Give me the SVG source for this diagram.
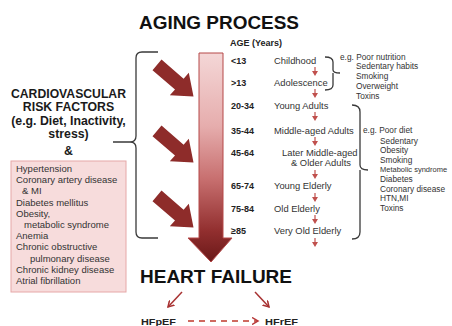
<svg xmlns="http://www.w3.org/2000/svg" width="452" height="326" viewBox="0 0 452 326">
<style>
text{font-family:"Liberation Sans",Arial,sans-serif;fill:#222}
.title{font-size:18px;font-weight:bold;fill:#111}
.rf{font-size:12.3px;font-weight:bold;text-anchor:middle;fill:#1a1a1a}
.box{font-size:9.5px;fill:#333}
.age{font-size:9px;font-weight:bold;fill:#222}
.lbl{font-size:9.4px;fill:#333}
.eg{font-size:8.3px;fill:#333}
.hf{font-size:9.5px;font-weight:bold;fill:#222}
.brace{fill:none;stroke:#3a3a3a;stroke-width:1.3}
</style>
<defs>
<linearGradient id="big" gradientUnits="userSpaceOnUse" x1="0" y1="53" x2="0" y2="262">
<stop offset="0" stop-color="#f4d7d7"/>
<stop offset="0.35" stop-color="#e6adad"/>
<stop offset="0.6" stop-color="#c87070"/>
<stop offset="0.85" stop-color="#922f2f"/>
<stop offset="1" stop-color="#6a1818"/>
</linearGradient>
<path id="diag" d="M161.5,59.5 L183.6,78.8 L188.8,72.8 L193.5,96.5 L169.8,95.3 L175,89.5 L152.5,70.3 Z" fill="#8e2c2a"/>
<g id="da"><line x1="0" y1="0" x2="0" y2="5" stroke="#c0504d" stroke-width="1.2"/><path d="M-3,4 L3,4 L0,9 Z" fill="#c0504d"/></g>
<marker id="ah" markerWidth="8" markerHeight="8" refX="6" refY="4" orient="auto" markerUnits="userSpaceOnUse"><path d="M0,0.5 L6,4 L0,7.5" fill="none" stroke="#b83a3a" stroke-width="1.5"/></marker>
<marker id="ahs" markerWidth="8" markerHeight="8" refX="6" refY="4" orient="auto" markerUnits="userSpaceOnUse"><path d="M0,0.5 L6,4 L0,7.5" fill="none" stroke="#a83232" stroke-width="1.5"/></marker>
</defs>

<g id="title"><text class="title" x="139" y="29" textLength="160" lengthAdjust="spacingAndGlyphs">AGING PROCESS</text></g>

<g id="big-arrow">
<path d="M199,53 H223 V238 H232 L211,262 L188,238 H199 Z" fill="url(#big)" stroke="#b54848" stroke-width="1"/>
</g>

<g id="risk-arrows">
<use href="#diag"/>
<use href="#diag" transform="translate(0,66)"/>
<use href="#diag" transform="translate(0,131)"/>
</g>

<g id="left-bracket">
<path class="brace" d="M158,52 H142 Q136,52 136,58 V136 Q136,142 130,142 H113 M130,142 Q136,142 136,148 V232 Q136,238 142,238 H158"/>
</g>

<g id="risk-factors">
<text class="rf" x="68.5" y="98" textLength="115" lengthAdjust="spacingAndGlyphs">CARDIOVASCULAR</text>
<text class="rf" x="68.5" y="111">RISK FACTORS</text>
<text class="rf" x="68.5" y="124.5">(e.g. Diet, Inactivity,</text>
<text class="rf" x="68.5" y="138">stress)</text>
<text class="rf" x="68.5" y="155">&amp;</text>
</g>

<g id="risk-box">
<rect x="11" y="161" width="115" height="131" fill="#f7dcdc" stroke="#e6a8a8" stroke-width="1"/>
<text class="box" x="16" y="172">Hypertension</text>
<text class="box" x="16" y="183.2">Coronary artery disease</text>
<text class="box" x="22" y="194.4">&amp; MI</text>
<text class="box" x="16" y="205.6">Diabetes mellitus</text>
<text class="box" x="16" y="216.8">Obesity,</text>
<text class="box" x="24" y="228">metabolic syndrome</text>
<text class="box" x="16" y="239.2">Anemia</text>
<text class="box" x="16" y="250.4">Chronic obstructive</text>
<text class="box" x="30" y="261.6">pulmonary disease</text>
<text class="box" x="16" y="272.8">Chronic kidney disease</text>
<text class="box" x="16" y="284">Atrial fibrillation</text>
</g>

<g id="ages">
<text class="age" x="230" y="46">AGE (Years)</text>
<text class="age" x="231" y="64">&lt;13</text><text class="lbl" x="274" y="64">Childhood</text>
<text class="age" x="231" y="86">&gt;13</text><text class="lbl" x="274" y="86">Adolescence</text>
<text class="age" x="231" y="109">20-34</text><text class="lbl" x="274" y="109">Young Adults</text>
<text class="age" x="231" y="134">35-44</text><text class="lbl" x="274" y="134">Middle-aged Adults</text>
<text class="age" x="231" y="156">45-64</text><text class="lbl" x="282" y="156">Later Middle-aged</text>
<text class="lbl" x="291" y="166">&amp; Older Adults</text>
<text class="age" x="231" y="189">65-74</text><text class="lbl" x="274" y="189">Young Elderly</text>
<text class="age" x="231" y="212">75-84</text><text class="lbl" x="274" y="212">Old Elderly</text>
<text class="age" x="231" y="234">≥85</text><text class="lbl" x="274" y="234">Very Old Elderly</text>
</g>

<g id="connectors">
<use href="#da" x="315" y="67"/>
<use href="#da" x="315" y="89"/>
<use href="#da" x="315" y="112"/>
<use href="#da" x="315" y="137"/>
<use href="#da" x="315" y="170"/>
<use href="#da" x="315" y="193"/>
<use href="#da" x="315" y="215"/>
<use href="#da" x="315" y="238"/>
<line x1="182" y1="292" x2="168" y2="307" stroke="#a83232" stroke-width="1.5" marker-end="url(#ahs)"/>
<line x1="255" y1="292" x2="269" y2="307" stroke="#a83232" stroke-width="1.5" marker-end="url(#ahs)"/>
<line x1="188" y1="321" x2="258" y2="321" stroke="#c0392b" stroke-width="1.5" stroke-dasharray="6,5" marker-end="url(#ah)"/>
</g>

<g id="brace-young">
<path class="brace" d="M325,57 Q333,57 333,62 V70 Q333,73 340,73 M333,73 Q333,73 333,76 V85 Q333,90 325,90"/>
<text class="eg" x="340" y="60">e.g. Poor nutrition</text>
<text class="eg" x="356" y="69">Sedentary habits</text>
<text class="eg" x="356" y="79">Smoking</text>
<text class="eg" x="356" y="89">Overweight</text>
<text class="eg" x="356" y="99">Toxins</text>
</g>

<g id="brace-adult">
<path class="brace" d="M352,105 Q360,105 360,112 V165 Q360,170 368,170 M360,170 Q360,170 360,175 V232 Q360,239 352,239"/>
<text class="eg" x="363" y="133">e.g. Poor diet</text>
<text class="eg" x="380" y="143.5">Sedentary</text>
<text class="eg" x="380" y="153.1">Obesity</text>
<text class="eg" x="380" y="162.7">Smoking</text>
<text class="eg" x="380" y="172.3" style="font-size:7.5px">Metabolic syndrome</text>
<text class="eg" x="380" y="181.9">Diabetes</text>
<text class="eg" x="380" y="191.5">Coronary disease</text>
<text class="eg" x="380" y="201.1">HTN,MI</text>
<text class="eg" x="380" y="210.7">Toxins</text>
</g>

<g id="heart-failure"><text class="title" x="140" y="282.5" textLength="152" lengthAdjust="spacingAndGlyphs">HEART FAILURE</text></g>
<g id="hfpef"><text class="hf" x="141" y="325" textLength="35" lengthAdjust="spacingAndGlyphs">HFpEF</text></g>
<g id="hfref"><text class="hf" x="265" y="325" textLength="33" lengthAdjust="spacingAndGlyphs">HFrEF</text></g>
</svg>
